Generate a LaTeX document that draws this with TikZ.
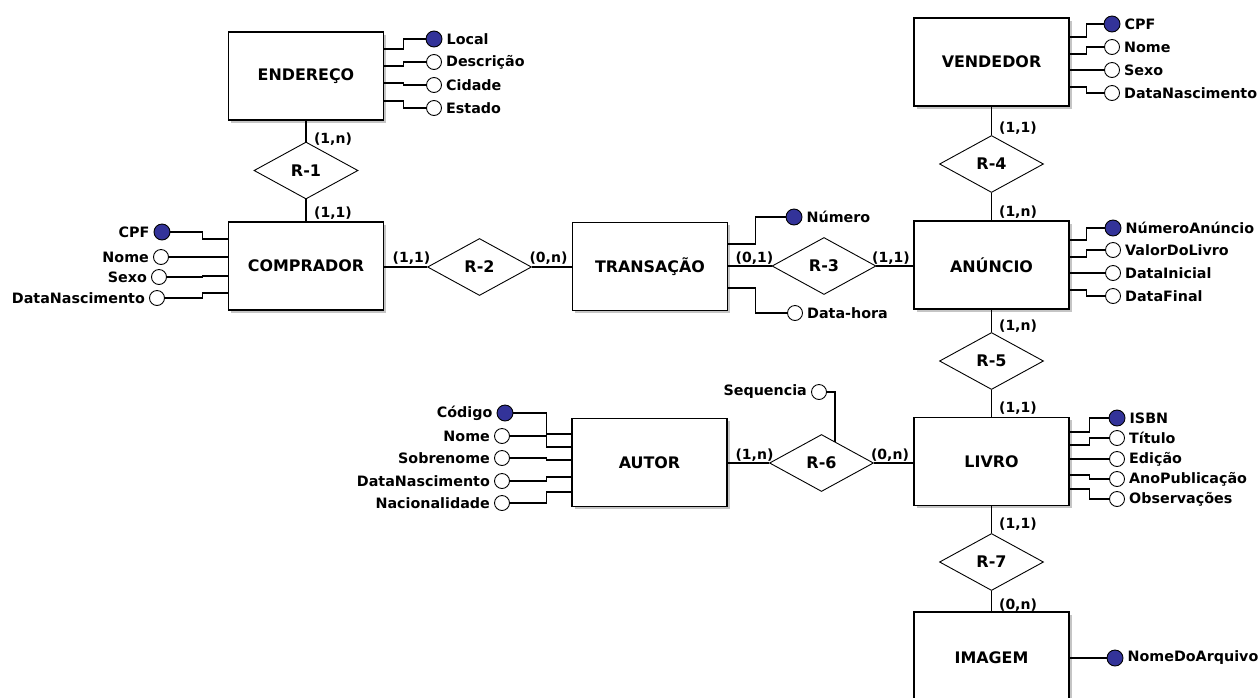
\documentclass[tikz,border=0pt]{standalone}
\usepackage{fontspec}
\setmainfont{DejaVu Sans}
\usetikzlibrary{shapes.geometric,shadows,calc}
\definecolor{keyblue}{RGB}{51,51,153}
\tikzset{
 entity/.style={draw, line width=1.5pt, fill=white, minimum width=155pt, minimum height=88pt, inner sep=0pt,
   font=\fontsize{15.9}{18}\selectfont\bfseries,
   drop shadow={shadow xshift=2.5pt, shadow yshift=-2.5pt, opacity=0.45}},
 rel/.style={diamond, draw, line width=0.9pt, fill=white, minimum width=104pt, minimum height=57pt, inner sep=0pt,
   font=\fontsize{16}{18}\selectfont\bfseries},
 conn/.style={line width=1.4pt},
 card/.style={font=\fontsize{14}{16}\selectfont\bfseries, inner sep=0pt},
 alab/.style={font=\fontsize{14.3}{16}\selectfont\bfseries, inner sep=0pt, label distance=4pt},
 keyattr/.style={circle, draw, line width=0.9pt, fill=keyblue, minimum size=16pt, inner sep=0pt},
 attr/.style={circle, draw, line width=0.9pt, fill=white, minimum size=15pt, inner sep=0pt},
}
\begin{document}
\begin{tikzpicture}[x=1pt,y=-1pt]
\useasboundingbox (0,0) rectangle (1260,697);
\clip (0,0) rectangle (1260,697);
\fill[white] (0,0) rectangle (1260,697);

% entities
\node[entity] (END) at (306,76) {ENDEREÇO};
\node[entity] (VEN) at (991.5,62) {VENDEDOR};
\node[entity] (COM) at (306,266) {COMPRADOR};
\node[entity] (TRA) at (650,266.5) {TRANSAÇÃO};
\node[entity] (ANU) at (991.5,265) {ANÚNCIO};
\node[entity] (LIV) at (991.5,461.5) {LIVRO};
\node[entity] (AUT) at (649.5,462.5) {AUTOR};
\node[entity, minimum height=92pt] (IMG) at (991.5,658) {IMAGEM};

% relationships
\node[rel] (R1) at (306,170.5) {R-1};
\node[rel] (R2) at (479.5,267) {R-2};
\node[rel] (R3) at (824,266) {R-3};
\node[rel] (R4) at (991.5,164) {R-4};
\node[rel] (R5) at (991.5,361) {R-5};
\node[rel] (R6) at (821.5,463) {R-6};
\node[rel] (R7) at (991.5,562) {R-7};

% relationship connectors
\draw[conn] (END) -- (R1);
\draw[conn] (R1) -- (COM);
\draw[conn] (R2.west) -- (R2.west -| COM.east);
\draw[conn] (R2.east) -- (R2.east -| TRA.west);
\draw[conn] (R3.west) -- (R3.west -| TRA.east);
\draw[conn] (R3.east) -- (R3.east -| ANU.west);
\draw[conn] (R6.west) -- (R6.west -| AUT.east);
\draw[conn] (R6.east) -- (R6.east -| LIV.west);
\draw[conn] (VEN) -- (R4);
\draw[conn] (R4) -- (ANU);
\draw[conn] (ANU) -- (R5);
\draw[conn] (R5) -- (LIV);
\draw[conn] (LIV) -- (R7);
\draw[conn] (R7) -- (IMG);

% cardinalities
\node[card] (k1) at (333,139) {(1,n)};
\node[card] (k2) at (333,213) {(1,1)};
\node[card] (k3) at (411.5,258) {(1,1)};
\node[card] (k4) at (548.5,258) {(0,n)};
\node[card] (k5) at (754.5,258) {(0,1)};
\node[card] (k6) at (891,258) {(1,1)};
\node[card] (k7) at (1018,128) {(1,1)};
\node[card] (k8) at (1018,212) {(1,n)};
\node[card] (k9) at (1018,326) {(1,n)};
\node[card] (k10) at (1018,408) {(1,1)};
\node[card] (k11) at (754.5,455) {(1,n)};
\node[card] (k12) at (890,455) {(0,n)};
\node[card] (k13) at (1018,524) {(1,1)};
\node[card] (k14) at (1018,605) {(0,n)};

% ENDERECO attributes
\node[keyattr, label={[alab]right:Local}] (eLoc) at (434,39) {};
\node[attr, label={[alab]right:Descrição}] (eDes) at (434,62) {};
\node[attr, label={[alab]right:Cidade}] (eCid) at (434,85) {};
\node[attr, label={[alab]right:Estado}] (eEst) at (434,108) {};
\draw[conn] ($(END.east)+(0,-27)$) -- ++(19,0) |- (eLoc.west);
\draw[conn] ($(END.east)+(0,-10)$) -- ++(19,0) |- (eDes.west);
\draw[conn] ($(END.east)+(0,7)$) -- ++(19,0) |- (eCid.west);
\draw[conn] ($(END.east)+(0,25)$) -- ++(19,0) |- (eEst.west);

% VENDEDOR attributes
\node[keyattr, label={[alab]right:CPF}] (vCPF) at (1112,24) {};
\node[attr, label={[alab]right:Nome}] (vNom) at (1112,47) {};
\node[attr, label={[alab]right:Sexo}] (vSex) at (1112,70) {};
\node[attr, label={[alab]right:DataNascimento}] (vDat) at (1112,93) {};
\draw[conn] ($(VEN.east)+(0,-25)$) -- ++(17,0) |- (vCPF.west);
\draw[conn] ($(VEN.east)+(0,-8)$) -- ++(17,0) |- (vNom.west);
\draw[conn] ($(VEN.east)+(0,8)$) -- ++(17,0) |- (vSex.west);
\draw[conn] ($(VEN.east)+(0,25)$) -- ++(17,0) |- (vDat.west);

% ANUNCIO attributes
\node[keyattr, label={[alab]right:NúmeroAnúncio}] (aNum) at (1113,228) {};
\node[attr, label={[alab]right:ValorDoLivro}] (aVal) at (1113,250) {};
\node[attr, label={[alab]right:DataInicial}] (aIni) at (1113,273) {};
\node[attr, label={[alab]right:DataFinal}] (aFin) at (1113,296) {};
\draw[conn] ($(ANU.east)+(0,-25)$) -- ++(17,0) |- (aNum.west);
\draw[conn] ($(ANU.east)+(0,-8)$) -- ++(17,0) |- (aVal.west);
\draw[conn] ($(ANU.east)+(0,8)$) -- ++(17,0) |- (aIni.west);
\draw[conn] ($(ANU.east)+(0,25)$) -- ++(17,0) |- (aFin.west);

% LIVRO attributes
\node[keyattr, label={[alab]right:ISBN}] (lISB) at (1117,418) {};
\node[attr, label={[alab]right:Título}] (lTit) at (1117,438) {};
\node[attr, label={[alab]right:Edição}] (lEdi) at (1117,459) {};
\node[attr, label={[alab]right:AnoPublicação}] (lAno) at (1117,479) {};
\node[attr, label={[alab]right:Observações}] (lObs) at (1117,499) {};
\draw[conn] ($(LIV.east)+(0,-29.5)$) -- ++(20,0) |- (lISB.west);
\draw[conn] ($(LIV.east)+(0,-16.5)$) -- ++(20,0) |- (lTit.west);
\draw[conn] ($(LIV.east)+(0,-2.5)$) -- ++(20,0) |- (lEdi.west);
\draw[conn] ($(LIV.east)+(0,13.5)$) -- ++(20,0) |- (lAno.west);
\draw[conn] ($(LIV.east)+(0,27.5)$) -- ++(20,0) |- (lObs.west);

% AUTOR attributes
\node[keyattr, label={[alab]left:Código}] (uCod) at (505,413) {};
\node[attr, label={[alab]left:Nome}] (uNom) at (502,436) {};
\node[attr, label={[alab]left:Sobrenome}] (uSob) at (502,458) {};
\node[attr, label={[alab]left:DataNascimento}] (uDat) at (502,481) {};
\node[attr, label={[alab]left:Nacionalidade}] (uNac) at (502,503) {};
\draw[conn] ($(AUT.west)+(0,-28.5)$) -- ++(-25,0) |- (uCod.east);
\draw[conn] ($(AUT.west)+(0,-15.5)$) -- ++(-25,0) |- (uNom.east);
\draw[conn] ($(AUT.west)+(0,-2.5)$) -- ++(-25,0) |- (uSob.east);
\draw[conn] ($(AUT.west)+(0,14.5)$) -- ++(-25,0) |- (uDat.east);
\draw[conn] ($(AUT.west)+(0,29.5)$) -- ++(-25,0) |- (uNac.east);

% COMPRADOR attributes
\node[keyattr, label={[alab]left:CPF}] (cCPF) at (162,232) {};
\node[attr, label={[alab]left:Nome}] (cNom) at (161,257) {};
\node[attr, label={[alab]left:Sexo}] (cSex) at (159,277) {};
\node[attr, label={[alab]left:DataNascimento}] (cDat) at (157,298) {};
\draw[conn] ($(COM.west)+(0,-27)$) -- ++(-25,0) |- (cCPF.east);
\draw[conn] ($(COM.west)+(0,-9)$) -- ++(-25,0) |- (cNom.east);
\draw[conn] ($(COM.west)+(0,10)$) -- ++(-25,0) |- (cSex.east);
\draw[conn] ($(COM.west)+(0,27)$) -- ++(-25,0) |- (cDat.east);

% TRANSACAO attributes
\node[keyattr, label={[alab]right:Número}] (tNum) at (794,217) {};
\node[attr, label={[alab]right:Data-hora}] (tDH) at (795,313) {};
\draw[conn] ($(TRA.east)+(0,-22.5)$) -- ++(27,0) |- (tNum.west);
\draw[conn] ($(TRA.east)+(0,21.5)$) -- ++(27,0) |- (tDH.west);

% R-6 attribute
\node[attr, label={[alab]left:Sequencia}] (sSeq) at (819,392) {};
\draw[conn] (sSeq.east) -| ($(R6.north)!0.26!(R6.east)$);

% IMAGEM attribute
\node[keyattr, label={[alab]right:NomeDoArquivo}] (iNDA) at (1115,658) {};
\draw[conn] (IMG.east) -- (iNDA.west);
\end{tikzpicture}
\end{document}
